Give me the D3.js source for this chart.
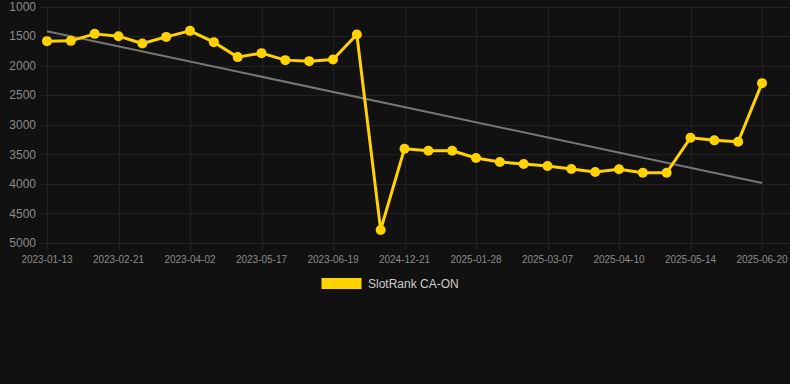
<!DOCTYPE html>
<html lang="en">
<head>
    <meta charset="UTF-8">
    <title>SlotRank CA-ON</title>
    <script src="https://cdn.jsdelivr.net/npm/d3@7"></script>
</head>

<style>
    body {
        margin: 0;
        background: #111111;
    }

    .grid line {
        stroke: #222222;
        stroke-width: 1px;
    }

    .tick-label {
        font-family: "Liberation Sans", Arial, sans-serif;
        fill: #8a8a8a;
    }

    .legend text {
        font-family: "Liberation Sans", Arial, sans-serif;
        font-size: 12px;
        fill: #cccccc;
    }
</style>

<body>
<svg width="790" height="384"></svg>

<script>
    var dates = ["2023-01-13", "2023-01-26", "2023-02-08", "2023-02-21", "2023-03-06", "2023-03-19",
        "2023-04-02", "2023-04-17", "2023-05-02", "2023-05-17", "2023-05-28", "2023-06-08",
        "2023-06-19", "2023-07-01", "2024-12-09", "2024-12-21", "2025-01-03", "2025-01-15",
        "2025-01-28", "2025-02-10", "2025-02-23", "2025-03-07", "2025-03-18", "2025-03-29",
        "2025-04-10", "2025-04-21", "2025-05-02", "2025-05-14", "2025-05-26", "2025-06-07",
        "2025-06-20"];

    var ranks = [1586, 1581, 1463, 1502, 1625, 1514, 1412, 1603, 1856, 1789, 1907, 1924,
        1895, 1473, 4779, 3405, 3439, 3439, 3562, 3630, 3664, 3698, 3748, 3799,
        3753, 3811, 3811, 3220, 3264, 3287, 2296];

    var yTicks = [1000, 1500, 2000, 2500, 3000, 3500, 4000, 4500, 5000];
    var seriesName = "SlotRank CA-ON";

    var svg = d3.select("svg"),
        width = +svg.attr("width"),
        height = +svg.attr("height");

    svg.append("rect")
        .attr("width", width)
        .attr("height", height)
        .attr("fill", "#111111");

    // chart area
    var plotLeft = 47, plotRight = 762, plotTop = 6.5, plotBottom = 243;

    var x = d3.scalePoint().domain(dates).range([plotLeft, plotRight]);
    var y = d3.scaleLinear().domain([1000, 5000]).range([plotTop, plotBottom]);

    var labelDates = dates.filter(function (d, i) { return i % 3 === 0; });

    var grid = svg.append("g").attr("class", "grid");

    grid.selectAll("line.h")
        .data(yTicks)
        .enter().append("line")
        .attr("class", "h")
        .attr("x1", plotLeft - 7)
        .attr("x2", width)
        .attr("y1", function (d) { return Math.round(y(d)) + 0.5; })
        .attr("y2", function (d) { return Math.round(y(d)) + 0.5; });

    grid.selectAll("line.v")
        .data(labelDates)
        .enter().append("line")
        .attr("class", "v")
        .attr("x1", function (d) { return Math.round(x(d)) + 0.5; })
        .attr("x2", function (d) { return Math.round(x(d)) + 0.5; })
        .attr("y1", plotTop)
        .attr("y2", plotBottom + 7);

    // y axis labels
    svg.append("g")
        .selectAll("text")
        .data(yTicks)
        .enter().append("text")
        .attr("class", "tick-label")
        .attr("x", 36)
        .attr("y", function (d) { return y(d); })
        .attr("dy", "0.35em")
        .attr("text-anchor", "end")
        .style("font-size", "12px")
        .text(function (d) { return d; });

    // x axis labels
    svg.append("g")
        .selectAll("text")
        .data(labelDates)
        .enter().append("text")
        .attr("class", "tick-label")
        .attr("x", function (d) { return x(d); })
        .attr("y", 259)
        .attr("dy", "0.35em")
        .attr("text-anchor", "middle")
        .style("font-size", "10px")
        .text(function (d) { return d; });

    // linear regression trend
    var n = ranks.length;
    var mx = d3.mean(ranks, function (d, i) { return i; });
    var my = d3.mean(ranks);
    var sxy = d3.sum(ranks, function (d, i) { return (i - mx) * (d - my); });
    var sxx = d3.sum(ranks, function (d, i) { return (i - mx) * (i - mx); });
    var slope = sxy / sxx;
    var intercept = my - slope * mx;

    svg.append("line")
        .attr("x1", x(dates[0]))
        .attr("y1", y(intercept))
        .attr("x2", x(dates[n - 1]))
        .attr("y2", y(intercept + slope * (n - 1)))
        .attr("stroke", "#777777")
        .attr("stroke-width", 2);

    var line = d3.line()
        .x(function (d, i) { return x(dates[i]); })
        .y(function (d) { return y(d); });

    svg.append("path")
        .datum(ranks)
        .attr("d", line)
        .attr("fill", "none")
        .attr("stroke", "#FFD200")
        .attr("stroke-width", 3)
        .attr("stroke-linejoin", "round");

    svg.append("g")
        .selectAll("circle")
        .data(ranks)
        .enter().append("circle")
        .attr("cx", function (d, i) { return x(dates[i]); })
        .attr("cy", function (d) { return y(d); })
        .attr("r", 5)
        .attr("fill", "#FFD200");

    // legend
    var legend = svg.append("g").attr("class", "legend");
    legend.append("rect")
        .attr("x", 321.5)
        .attr("y", 278)
        .attr("width", 40)
        .attr("height", 11)
        .attr("fill", "#FFD200");
    legend.append("text")
        .attr("x", 368)
        .attr("y", 284)
        .attr("dy", "0.35em")
        .text(seriesName);
</script>

</body>
</html>
